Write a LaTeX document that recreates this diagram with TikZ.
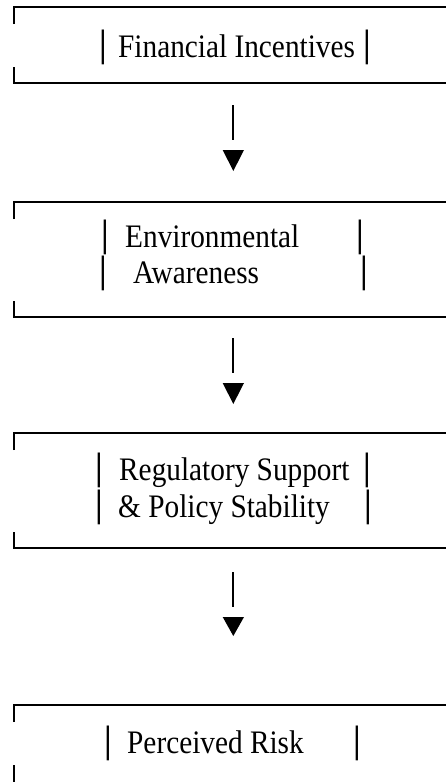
\documentclass[tikz,border=0pt]{standalone}
\usepackage{fontspec}
\setmainfont{Liberation Serif}
\newfontfamily\barfont{DejaVu Sans Mono}
\newcommand\myframe[2]{%
  \draw[frame] (14,#1+17) -- (14,#1) -- (446,#1);
  \draw[frame] (14,#2-16) -- (14,#2) -- (446,#2);}
\newcommand\myarrow[4]{%
  \coordinate (#1s) at (232.5,#2);
  \coordinate (#1e) at (232.5,#3);
  \draw[link] (#1s) -- (#1e);
  \fill[head] (222.7,#3+10) -- (244,#3+10) -- (233.3,#4) -- cycle;}
\newcommand\tall[1]{\scalebox{1}[1.12]{#1}}
\newcommand\vb{\barfont\symbol{"2502}}
\begin{document}
\begin{tikzpicture}[x=1pt,y=-1pt,
  frame/.style={line width=2.3pt},
  txt/.style={anchor=base west, inner sep=0pt, font=\fontsize{29.3}{35}\selectfont},
  vbar/.style={anchor=base, inner sep=0pt, font=\fontsize{29.3}{35}\selectfont},
  link/.style={line width=2pt},
  head/.style={fill=black}]
\useasboundingbox (0,0) rectangle (446,782);
% box 1
\myframe{7}{83}
\node[vbar] (b1l) at (103,57) {\vb};
\node[txt] (t1) at (118,57) {\tall{Financial Incentives}};
\node[vbar] (b1r) at (367,57) {\vb};
\myarrow{a1}{105}{140}{171}
% box 2
\myframe{202}{317}
\node[vbar] (b2a) at (105,247) {\vb};
\node[txt] (t2a) at (125,247) {\tall{Environmental}};
\node[vbar] (b2b) at (360,247) {\vb};
\node[vbar] (b2c) at (103,283) {\vb};
\node[txt] (t2b) at (133,283) {\tall{Awareness}};
\node[vbar] (b2d) at (364,283) {\vb};
\myarrow{a2}{338}{373}{404}
% box 3
\myframe{433}{548}
\node[vbar] (b3a) at (99,480) {\vb};
\node[txt] (t3a) at (119,480) {\tall{Regulatory Support}};
\node[vbar] (b3b) at (367,480) {\vb};
\node[vbar] (b3c) at (99,517) {\vb};
\node[txt] (t3b) at (118,517) {\tall{\& Policy Stability}};
\node[vbar] (b3d) at (368,517) {\vb};
\myarrow{a3}{572}{607}{636}
% box 4
\draw[frame] (14,722) -- (14,705) -- (446,705);
\draw[frame] (14,765) -- (14,782);
\node[vbar] (b4a) at (108,753) {\vb};
\node[txt] (t4) at (127,753) {\tall{Perceived Risk}};
\node[vbar] (b4b) at (357,753) {\vb};
\end{tikzpicture}
\end{document}
